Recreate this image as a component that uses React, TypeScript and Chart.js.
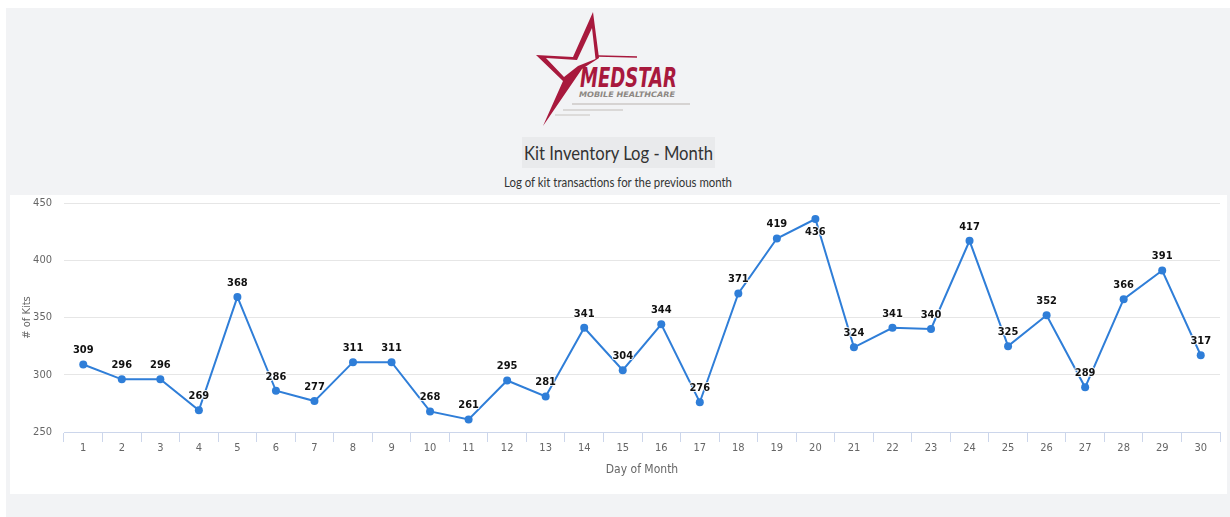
import React, { useEffect, useLayoutEffect, useRef } from "react";
import { Chart, registerables } from "chart.js";

Chart.register(...registerables);

const days = ["1","2","3","4","5","6","7","8","9","10","11","12","13","14","15","16","17","18","19","20","21","22","23","24","25","26","27","28","29","30"];
const kits = [309,296,296,269,368,286,277,311,311,268,261,295,281,341,304,344,276,371,419,436,324,341,340,417,325,352,289,366,391,317];
const yMin = 250;
const yMax = 450;
const yStep = 50;

const NARROW = "'Liberation Sans Narrow', 'DejaVu Sans Condensed', 'Roboto', sans-serif";

const dataLabels = {
  id: "dataLabels",
  afterDatasetsDraw(chart: any) {
    const ctx = chart.ctx;
    const meta = chart.getDatasetMeta(0);
    const ds = chart.data.datasets[0].data;
    ctx.save();
    ctx.font = "bold 11px " + NARROW;
    ctx.textAlign = "center";
    ctx.textBaseline = "middle";
    ctx.lineJoin = "round";
    meta.data.forEach((pt: any, i: number) => {
      let y = pt.y - 14;
      if (y - 6 < chart.chartArea.top) y = pt.y + 13;
      const t = String(ds[i]);
      ctx.lineWidth = 2;
      ctx.strokeStyle = "rgba(255,255,255,0.85)";
      ctx.strokeText(t, pt.x, y);
      ctx.fillStyle = "#111";
      ctx.fillText(t, pt.x, y);
    });
    ctx.restore();
  },
};

function Logo() {
  const red = "#a8193d";
  return (
    <svg width={1230} height={140} style={{ position: "absolute", left: 0, top: 0 }}>
      <path
        d="M593,12 L599,58 L582,69 L543,126 L563,81 L536,55 L573,57 Z"
        fill={red}
      />
      <path
        d="M592,28 L595.5,59 L578,66 L564,77 L546,58 L577,60 Z"
        fill="#f2f3f5"
      />
      <line x1={598} y1={56} x2={637} y2={57} stroke={red} strokeWidth={1.5} />
      <text
        x={580}
        y={87}
        fill={red}
        fontFamily="'DejaVu Sans Condensed', sans-serif"
        fontWeight="bold"
        fontStyle="italic"
        fontSize={27}
        textLength={97}
        lengthAdjust="spacingAndGlyphs"
      >
        MEDSTAR
      </text>
      <text
        x={579}
        y={97}
        fill="#8d8883"
        fontFamily="'DejaVu Sans', sans-serif"
        fontWeight="bold"
        fontStyle="italic"
        fontSize={7.5}
        textLength={96}
        lengthAdjust="spacingAndGlyphs"
      >
        MOBILE HEALTHCARE
      </text>
      <line x1={572} y1={104} x2={690} y2={104} stroke="#b9b4b0" strokeWidth={1.2} />
      <line x1={563} y1={110} x2={623} y2={110} stroke="#c2bdb9" strokeWidth={1} />
      <line x1={555} y1={115} x2={590} y2={115} stroke="#c8c4c0" strokeWidth={1} />
    </svg>
  );
}

function FitText({ text, width, center, top, height, size }: any) {
  const ref = useRef<HTMLSpanElement | null>(null);
  useLayoutEffect(() => {
    const el = ref.current;
    if (!el) return;
    const w = el.getBoundingClientRect().width;
    if (w > 0) el.style.transform = `scaleX(${width / w})`;
  }, [text, width]);
  return (
    <span
      ref={ref}
      style={{
        position: "absolute",
        left: center - width / 2,
        top,
        height,
        lineHeight: height + "px",
        whiteSpace: "nowrap",
        fontFamily: "Lato, sans-serif",
        fontSize: size,
        color: "#333",
        transformOrigin: "0 50%",
      }}
    >
      {text}
    </span>
  );
}

export default function App() {
  const ref = useRef<HTMLCanvasElement | null>(null);

  useEffect(() => {
    if (!ref.current) return;
    const chart = new Chart(ref.current, {
      type: "line",
      data: {
        labels: days,
        datasets: [
          {
            data: kits,
            borderColor: "#2f7ed8",
            backgroundColor: "#2f7ed8",
            borderWidth: 2,
            pointRadius: 4,
            pointBorderWidth: 0,
            pointBackgroundColor: "#2f7ed8",
            tension: 0,
          },
        ],
      },
      options: {
        responsive: false,
        animation: false,
        layout: { padding: { left: 0, right: 7, top: 8, bottom: 0 } },
        plugins: { legend: { display: false }, tooltip: { enabled: false }, title: { display: false } },
        scales: {
          x: {
            type: "category",
            offset: true,
            grid: {
              offset: true,
              drawOnChartArea: false,
              drawTicks: true,
              tickLength: 10,
              color: "#ccd6eb",
            },
            border: { color: "#ccd6eb", width: 1 },
            ticks: { color: "#666", font: { size: 11, family: NARROW }, padding: 0, maxRotation: 0, autoSkip: false },
            title: {
              display: true,
              text: "Day of Month",
              color: "#666",
              font: { size: 12, family: NARROW },
              padding: { top: 0, bottom: 17 },
            },
            afterFit(scale: any) {
              scale.height = 62;
              scale.paddingLeft = 0;
              scale.paddingRight = 0;
            },
          },
          y: {
            min: yMin,
            max: yMax,
            ticks: { stepSize: yStep, color: "#666", font: { size: 11, family: NARROW }, padding: 12 },
            grid: { color: "#e6e6e6", drawTicks: false, lineWidth: 1 },
            border: { display: false },
            title: {
              display: true,
              text: "# of Kits",
              color: "#666",
              font: { size: 11, family: NARROW },
              padding: { top: 11, bottom: 0 },
            },
            afterFit(scale: any) {
              scale.width = 54;
              scale.paddingTop = 0;
              scale.paddingBottom = 0;
            },
          },
        },
      },
      plugins: [dataLabels],
    } as any);
    return () => chart.destroy();
  }, []);

  return (
    <div style={{ position: "absolute", left: 0, top: 0, width: 1230, height: 517, background: "#fff", overflow: "hidden" }}>
      <div style={{ position: "absolute", left: 6, top: 8, width: 1224, height: 509, background: "#f2f3f5" }} />
      <Logo />
      <div
        style={{
          position: "absolute",
          left: 522,
          top: 137,
          width: 193,
          height: 31,
          background: "#e9eaec",
        }}
      />
      <FitText text="Kit Inventory Log - Month" width={189} center={618} top={137} height={31} size={20} />
      <FitText text="Log of kit transactions for the previous month" width={228} center={618} top={173} height={18} size={13.5} />
      <div style={{ position: "absolute", left: 10, top: 195, width: 1217, height: 299, background: "#fff" }}>
        <canvas ref={ref} width={1217} height={299} style={{ display: "block", width: 1217, height: 299 }} />
      </div>
    </div>
  );
}
